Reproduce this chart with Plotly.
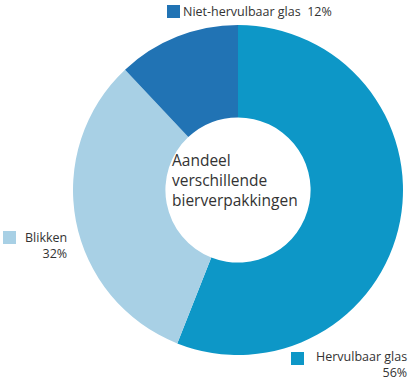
import plotly.graph_objects as go

labels = ["Hervulbaar glas", "Blikken", "Niet-hervulbaar glas"]
values = [56, 32, 12]
colors = ["#0d97c7", "#a8d0e5", "#2173b4"]
center_text = "Aandeel<br>verschillende<br>bierverpakkingen"

W, H = 409, 381
fig = go.Figure(go.Pie(
    labels=labels, values=values, hole=0.44, sort=False, direction="clockwise",
    rotation=0, marker=dict(colors=colors, line=dict(color="white", width=0)),
    textinfo="none", hoverinfo="label+percent",
    domain=dict(x=[73/W, 403/W], y=[1-355/H, 1-25/H]),
))

font = "Open Sans, sans-serif"
tc = "#333333"

def px(x): return x / W
def py(y): return 1 - y / H

anns = []
shapes = []
def square(x, y, c):
    shapes.append(dict(type="rect", xref="paper", yref="paper",
                       x0=px(x), x1=px(x+13), y0=py(y+13), y1=py(y),
                       fillcolor=c, line=dict(width=0)))
def text(x, y, t, xanchor="left", align="left", yanchor="middle"):
    anns.append(dict(xref="paper", yref="paper", x=px(x), y=py(y), text=t,
                     showarrow=False, xanchor=xanchor, yanchor=yanchor, align=align,
                     borderpad=0, borderwidth=0,
                     font=dict(family=font, size=12.5, color=tc)))

# Niet-hervulbaar glas
square(167, 5, colors[2])
text(183, 12, labels[2] + "  " + f"{values[2]}%")
# Blikken
square(3, 231, colors[1])
text(67, 245, labels[1] + "<br>" + f"{values[1]}%", "right", "right")
# Hervulbaar glas
square(291, 352, colors[0])
text(407, 380.5, labels[0] + "<br>" + f"{values[0]}%", "right", "right", "bottom")

anns.append(dict(xref="paper", yref="paper", x=px(170), y=py(180), text=center_text,
                 showarrow=False, xanchor="left", yanchor="middle", align="left",
                 font=dict(family=font, size=15.5, color=tc)))

fig.update_layout(width=W, height=H, margin=dict(l=0, r=0, t=0, b=0),
                  showlegend=False, paper_bgcolor="white",
                  annotations=anns, shapes=shapes)
fig.write_html("out.html", config={"displayModeBar": False},
               post_script="document.body.style.margin='0';document.body.style.overflow='hidden';")
